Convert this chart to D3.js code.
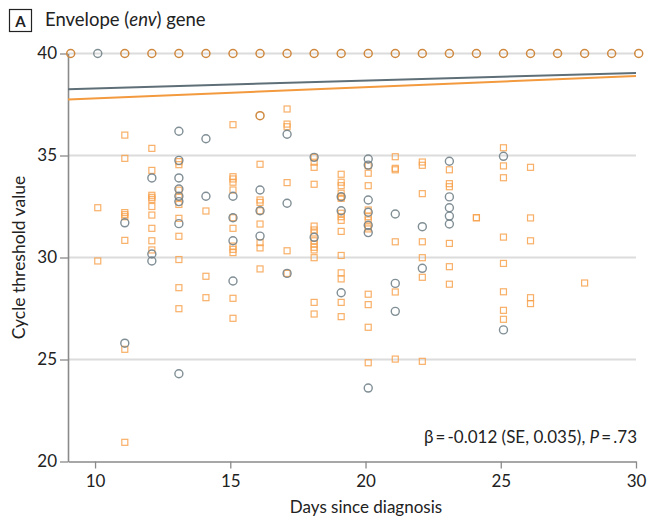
<!DOCTYPE html>
<html>
<head>
<meta charset="utf-8">
<script src="https://cdn.jsdelivr.net/npm/d3@7/dist/d3.min.js"></script>
<style>
  body { margin: 0; background: #fff; }
  text { font-family: Lato, "Open Sans", sans-serif; fill: #222; }
</style>
</head>
<body>
<div id="chart"></div>
<script>
// grey circles: [day, Ct]
var greyCircles = [
  [10, 40],
  [11, 31.7], [11, 25.8],
  [12, 33.9], [12, 30.17], [12, 29.83],
  [13, 36.19], [13, 34.76], [13, 33.9], [13, 33.36], [13, 33.0], [13, 32.74], [13, 31.66], [13, 24.3],
  [14, 35.82], [14, 33.0],
  [15, 33.0], [15, 31.95], [15, 30.82], [15, 28.85],
  [16, 33.31], [16, 32.29], [16, 31.05],
  [17, 36.04], [17, 32.66], [17, 29.22],
  [18, 34.91], [18, 30.99],
  [19, 32.98], [19, 32.29], [19, 28.27],
  [20, 34.83], [20, 34.53], [20, 32.82], [20, 32.22], [20, 31.58], [20, 31.22], [20, 23.6],
  [21, 32.13], [21, 28.73], [21, 27.36],
  [22, 31.51], [22, 29.47],
  [23, 34.72], [23, 32.97], [23, 32.44], [23, 32.03], [23, 31.64],
  [25, 34.96], [25, 26.45]
];

// orange circles (mostly at the Ct = 40 cut-off)
var orangeCircles = [
  [9, 40], [11, 40], [12, 40], [13, 40], [14, 40], [15, 40], [16, 40], [17, 40],
  [18, 40], [19, 40], [20, 40], [21, 40], [22, 40], [23, 40], [24, 40], [25, 40],
  [26, 40], [27, 40], [28, 40], [29, 40], [30, 40],
  [16, 36.95]
];

// orange squares: [day, Ct]
var orangeSquares = [
  [10, 32.44], [10, 29.83],
  [11, 36.0], [11, 34.86], [11, 32.2], [11, 32.1], [11, 32.0], [11, 30.84], [11, 25.5], [11, 20.94],
  [12, 35.35], [12, 34.27], [12, 33.05], [12, 32.95], [12, 32.85], [12, 32.5], [12, 32.08], [12, 31.43], [12, 30.82], [12, 30.37],
  [13, 34.7], [13, 34.55], [13, 33.3], [13, 32.95], [13, 32.6], [13, 31.92], [13, 31.04], [13, 29.9], [13, 28.52], [13, 27.49],
  [14, 32.28], [14, 29.08], [14, 28.03],
  [15, 36.51], [15, 33.96], [15, 33.85], [15, 33.69], [15, 33.31], [15, 31.95], [15, 31.43], [15, 30.56], [15, 30.4], [15, 30.24], [15, 28.0], [15, 27.02],
  [16, 34.57], [16, 32.82], [16, 32.7], [16, 32.29], [16, 31.64], [16, 30.73], [16, 30.47], [16, 29.44],
  [17, 37.28], [17, 36.54], [17, 36.41], [17, 33.67], [17, 30.33], [17, 29.22],
  [18, 34.91], [18, 34.67], [18, 34.42], [18, 33.59], [18, 31.54], [18, 31.35], [18, 31.2], [18, 30.82], [18, 30.66], [18, 30.5], [18, 30.37], [18, 29.99], [18, 27.8], [18, 27.23],
  [19, 34.08], [19, 33.69], [19, 33.52], [19, 33.15], [19, 32.98], [19, 32.9], [19, 32.17], [19, 32.0], [19, 31.82], [19, 31.28], [19, 30.1], [19, 29.25], [19, 28.95], [19, 27.8], [19, 27.1],
  [20, 34.5], [20, 34.13], [20, 33.52], [20, 32.33], [20, 32.0], [20, 31.84], [20, 31.5], [20, 31.4], [20, 28.2], [20, 27.69], [20, 26.58], [20, 24.84],
  [21, 34.94], [21, 34.37], [21, 34.3], [21, 30.77], [21, 28.31], [21, 25.02],
  [22, 34.68], [22, 34.52], [22, 33.13], [22, 30.77], [22, 29.99], [22, 29.03], [22, 24.91],
  [23, 34.3], [23, 33.62], [23, 33.47], [23, 30.69], [23, 29.55], [23, 28.69],
  [24, 31.95], [24, 31.95],
  [25, 35.38], [25, 34.49], [25, 33.91], [25, 31.0], [25, 29.71], [25, 28.32], [25, 27.41], [25, 26.97],
  [26, 34.42], [26, 31.94], [26, 30.82], [26, 28.03], [26, 27.74],
  [28, 28.75]
];

// fitted lines, endpoints [day, Ct]
var greyFit = [[9, 38.25], [30, 39.05]];
var orangeFit = [[9, 37.75], [30, 38.9]];

var xTicks = [10, 15, 20, 25, 30];
var yTicks = [20, 25, 30, 35, 40];

var imgWidth = 648, imgHeight = 521;
var margin = {top: 53.5, right: 12, bottom: 59.5, left: 68},
    width = imgWidth - margin.left - margin.right,
    height = imgHeight - margin.top - margin.bottom;

var grey = "#72828a", orange = "#f7a14c", brown = "#cf893f";
var dayShift = 0.1;

var x = d3.scaleLinear().domain([9, 30]).range([0, width]),
    y = d3.scaleLinear().domain([20, 40]).range([height, 0]);

var svg = d3.select("#chart").append("svg")
    .attr("width", imgWidth)
    .attr("height", imgHeight);

// panel label
svg.append("rect")
    .attr("x", 9.5).attr("y", 9.5).attr("width", 22).attr("height", 22)
    .attr("fill", "none").attr("stroke", "#222").attr("stroke-width", 1.2);
svg.append("text")
    .attr("x", 20.5).attr("y", 26.5)
    .attr("text-anchor", "middle")
    .attr("font-size", 15).attr("font-weight", "bold")
    .text("A");
var title = svg.append("text")
    .attr("x", 45).attr("y", 26)
    .attr("font-size", 18.5);
title.append("tspan").text("Envelope (");
title.append("tspan").attr("font-style", "italic").text("env");
title.append("tspan").text(") gene");

var g = svg.append("g")
    .attr("transform", "translate(" + margin.left + "," + margin.top + ")");

// gridlines
g.selectAll(".grid")
    .data(yTicks.filter(function(d) { return d > 20; }))
    .enter().append("line")
    .attr("class", "grid")
    .attr("x1", 0).attr("x2", width)
    .attr("y1", function(d) { return y(d); })
    .attr("y2", function(d) { return y(d); })
    .attr("stroke", "#dcdcdc").attr("stroke-width", 2);

// axes
var xAxis = g.append("g")
    .attr("class", "axis axis--x")
    .attr("transform", "translate(0," + height + ")")
    .call(d3.axisBottom(x).tickValues(xTicks).tickSize(7).tickPadding(6).tickSizeOuter(0));
var yAxis = g.append("g")
    .attr("class", "axis axis--y")
    .call(d3.axisLeft(y).tickValues(yTicks).tickSize(8).tickPadding(3).tickSizeOuter(0));

[xAxis, yAxis].forEach(function(a) {
  a.select(".domain").attr("stroke", "#8a8a8a").attr("stroke-width", 1.6);
  a.selectAll(".tick line").attr("stroke", "#8a8a8a").attr("stroke-width", 1.3);
  a.selectAll(".tick text").attr("font-size", 17).attr("fill", "#222")
    .style("font-family", "Lato, 'Open Sans', sans-serif");
});

svg.append("text")
    .attr("x", 366)
    .attr("y", 513)
    .attr("text-anchor", "middle")
    .attr("font-size", 17)
    .text("Days since diagnosis");

svg.append("text")
    .attr("transform", "translate(25," + (margin.top + y(30)) + ") rotate(-90)")
    .attr("text-anchor", "middle")
    .attr("font-size", 17.5)
    .text("Cycle threshold value");

// fitted lines
var line = d3.line()
    .x(function(d) { return x(d[0]); })
    .y(function(d) { return y(d[1]); });
g.append("path").datum(greyFit)
    .attr("d", line).attr("fill", "none")
    .attr("stroke", "#5f6f77").attr("stroke-width", 2);
g.append("path").datum(orangeFit)
    .attr("d", line).attr("fill", "none")
    .attr("stroke", "#f39a3e").attr("stroke-width", 2);

// points
g.selectAll(".sq")
    .data(orangeSquares)
    .enter().append("rect")
    .attr("class", "sq")
    .attr("x", function(d) { return x(d[0] + dayShift) - 3; })
    .attr("y", function(d) { return y(d[1]) - 3; })
    .attr("width", 6).attr("height", 6)
    .attr("fill", "none")
    .attr("stroke", orange).attr("stroke-width", 1.2)
    .attr("stroke-opacity", 0.85);

g.selectAll(".gc")
    .data(greyCircles)
    .enter().append("circle")
    .attr("class", "gc")
    .attr("cx", function(d) { return x(d[0] + dayShift); })
    .attr("cy", function(d) { return y(d[1]); })
    .attr("r", 4)
    .attr("fill", "none")
    .attr("stroke", grey).attr("stroke-width", 1.4)
    .attr("stroke-opacity", 0.9);

g.selectAll(".oc")
    .data(orangeCircles)
    .enter().append("circle")
    .attr("class", "oc")
    .attr("cx", function(d) { return x(d[0] + dayShift); })
    .attr("cy", function(d) { return y(d[1]); })
    .attr("r", 4)
    .attr("fill", "none")
    .attr("stroke", brown).attr("stroke-width", 1.5);

// annotation
var note = svg.append("text")
    .attr("x", 637).attr("y", 443)
    .attr("text-anchor", "end")
    .attr("font-size", 17);
note.append("tspan").text("\u03b2\u2009=\u2009-0.012 (SE, 0.035), ");
note.append("tspan").attr("font-style", "italic").text("P");
note.append("tspan").text("\u2009=\u2009.73");
</script>
</body>
</html>
